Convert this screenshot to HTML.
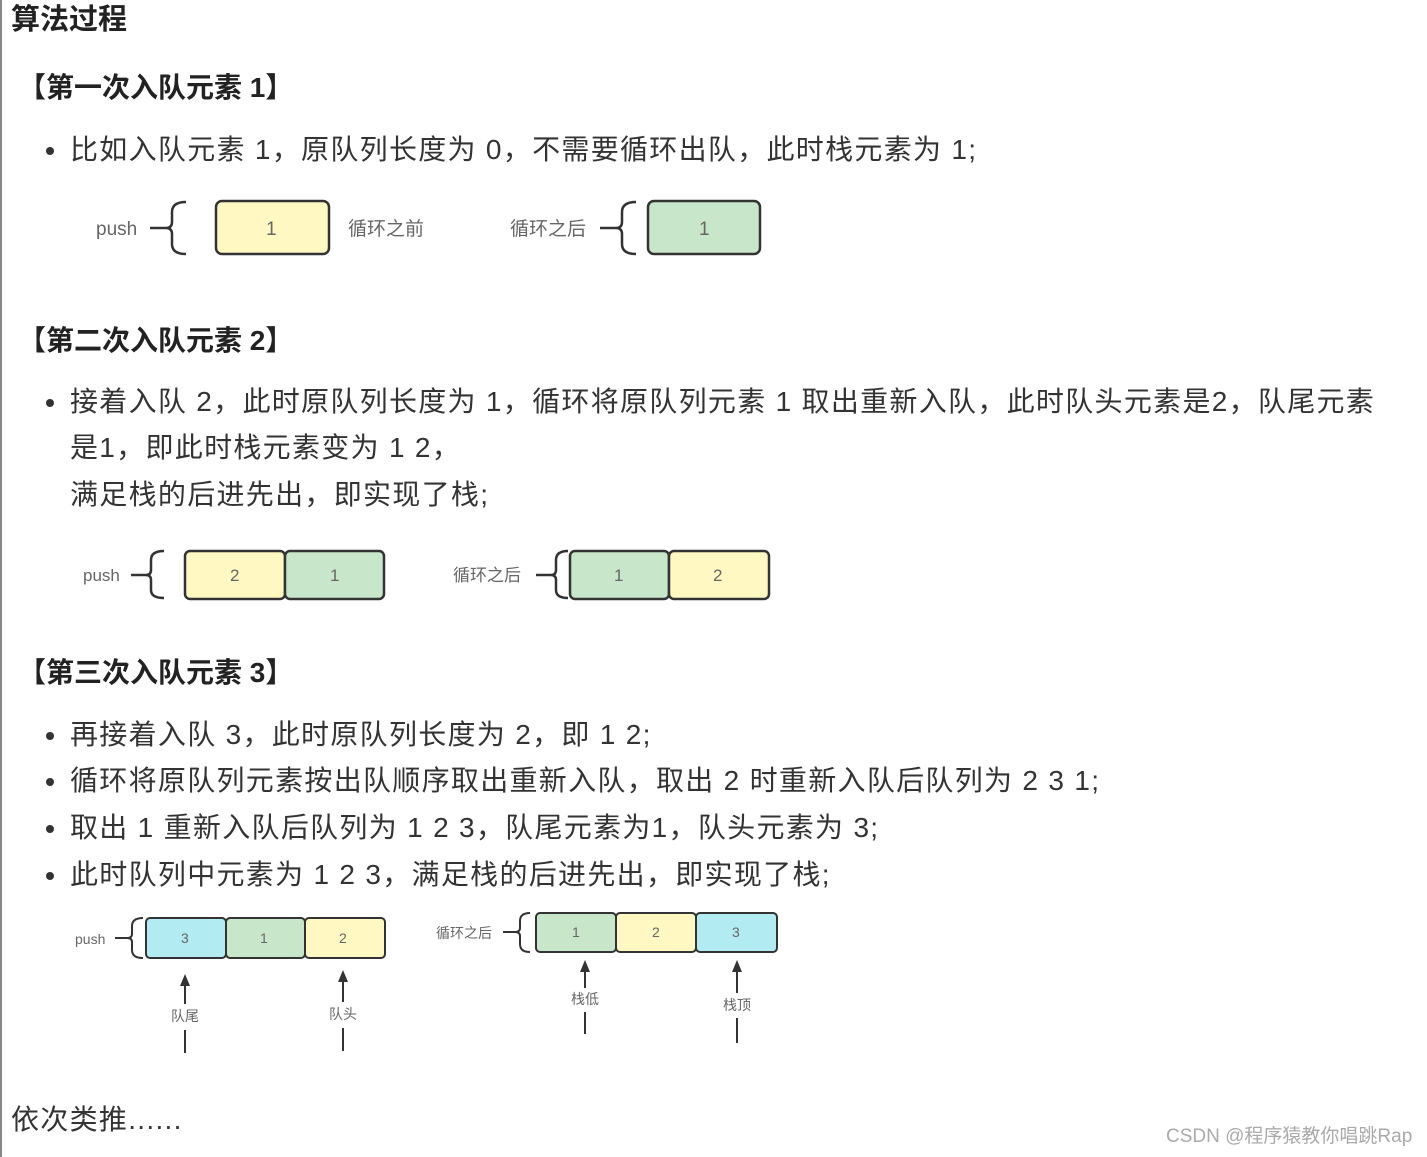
<!DOCTYPE html>
<html><head><meta charset="utf-8"><style>
html,body{margin:0;padding:0;background:#fff;}
body{width:1427px;height:1157px;position:relative;overflow:hidden;font-family:"Liberation Sans","Noto Sans CJK SC",sans-serif;color:#333;}
.t{position:absolute;white-space:nowrap;line-height:1;}
.h{font-size:28px;font-weight:bold;color:#222;}
.p{font-size:28px;color:#333;letter-spacing:1.3px;}
.dot{position:absolute;width:8px;height:8px;border-radius:50%;background:#333;}
svg{position:absolute;left:0;top:0;}
</style></head><body>
<div style="position:absolute;left:0;top:0;width:2px;height:1157px;background:#888"></div>
<div class="t h" style="left:11px;top:6px;font-size:29px">算法过程</div>
<div class="t h" style="left:18px;top:74px">【第一次入队元素 1】</div>
<div class="dot" style="left:46px;top:147px"></div>
<div class="t p" style="left:70px;top:136px">比如入队元素 1，原队列长度为 0，不需要循环出队，此时栈元素为 1;</div>

<div class="t h" style="left:18px;top:327px">【第二次入队元素 2】</div>
<div class="dot" style="left:46px;top:399px"></div>
<div class="t p" style="left:70px;top:388px">接着入队 2，此时原队列长度为 1，循环将原队列元素 1 取出重新入队，此时队头元素是2，队尾元素</div>
<div class="t p" style="left:70px;top:434px">是1，即此时栈元素变为 1 2，</div>
<div class="t p" style="left:70px;top:481px">满足栈的后进先出，即实现了栈;</div>

<div class="t h" style="left:18px;top:659px">【第三次入队元素 3】</div>
<div class="dot" style="left:46px;top:732px"></div>
<div class="t p" style="left:70px;top:721px">再接着入队 3，此时原队列长度为 2，即 1 2;</div>
<div class="dot" style="left:46px;top:778px"></div>
<div class="t p" style="left:70px;top:767px">循环将原队列元素按出队顺序取出重新入队，取出 2 时重新入队后队列为 2 3 1;</div>
<div class="dot" style="left:46px;top:825px"></div>
<div class="t p" style="left:70px;top:814px">取出 1 重新入队后队列为 1 2 3，队尾元素为1，队头元素为 3;</div>
<div class="dot" style="left:46px;top:872px"></div>
<div class="t p" style="left:70px;top:861px">此时队列中元素为 1 2 3，满足栈的后进先出，即实现了栈;</div>

<div class="t p" style="left:11px;top:1106px">依次类推......</div>
<div class="t" style="left:1166px;top:1127px;font-size:19px;color:#aaa">CSDN @程序猿教你唱跳Rap</div>

<svg width="1427" height="1157" font-family="Liberation Sans, Noto Sans CJK SC, sans-serif" fill="#666">
<g stroke="#333" stroke-width="2.5" fill="none">
 <path d="M150 228 H166 M186 202 Q172 202 172 212 V222 Q172 228 166 228 Q172 228 172 234 V244 Q172 254 186 254"/>
 <path d="M600 228 H616 M636 202 Q622 202 622 212 V222 Q622 228 616 228 Q622 228 622 234 V244 Q622 254 636 254"/>
 <path d="M131 575 H146 M164 551 Q151 551 151 560 V570 Q151 575 146 575 Q151 575 151 580 V590 Q151 598 164 598"/>
 <path d="M536 575 H551 M568 551 Q556 551 556 560 V570 Q556 575 551 575 Q556 575 556 580 V590 Q556 598 568 598"/>
 <path d="M115 938 H127 M143 918 Q132 918 132 926 V934 Q132 938 127 938 Q132 938 132 942 V950 Q132 958 143 958" stroke-width="2"/>
 <path d="M503 932 H515 M530 913 Q520 913 520 921 V928 Q520 932 515 932 Q520 932 520 936 V944 Q520 952 530 952" stroke-width="2"/>
</g>
<g stroke="#333" stroke-width="2.5">
 <rect x="216" y="201" width="113" height="53" rx="6" fill="#fff8c2"/>
 <rect x="648" y="201" width="112" height="53" rx="6" fill="#c8e6c9"/>
 <rect x="185" y="551" width="100" height="48" rx="5" fill="#fff8c2"/>
 <rect x="285" y="551" width="99" height="48" rx="5" fill="#c8e6c9"/>
 <rect x="570" y="551" width="99" height="48" rx="5" fill="#c8e6c9"/>
 <rect x="669" y="551" width="100" height="48" rx="5" fill="#fff8c2"/>
</g>
<g stroke="#333" stroke-width="2">
 <rect x="146" y="918" width="80" height="40" rx="4" fill="#b2ebf2"/>
 <rect x="226" y="918" width="79" height="40" rx="4" fill="#c8e6c9"/>
 <rect x="305" y="918" width="80" height="40" rx="4" fill="#fff8c2"/>
 <rect x="536" y="913" width="80" height="39" rx="4" fill="#c8e6c9"/>
 <rect x="616" y="913" width="80" height="39" rx="4" fill="#fff8c2"/>
 <rect x="696" y="913" width="81" height="39" rx="4" fill="#b2ebf2"/>
</g>
<g font-size="19" fill="#666">
 <text x="96" y="235">push</text>
 <text x="348" y="235">循环之前</text>
 <text x="510" y="235">循环之后</text>
 <text x="266" y="235">1</text>
 <text x="699" y="235">1</text>
</g>
<g font-size="17" fill="#666">
 <text x="83" y="581">push</text>
 <text x="453" y="581">循环之后</text>
 <text x="230" y="581">2</text>
 <text x="330" y="581">1</text>
 <text x="614" y="581">1</text>
 <text x="713" y="581">2</text>
</g>
<g font-size="14" fill="#666">
 <text x="75" y="944">push</text>
 <text x="436" y="938">循环之后</text>
 <text x="181" y="943">3</text>
 <text x="260" y="943">1</text>
 <text x="339" y="943">2</text>
 <text x="572" y="937">1</text>
 <text x="652" y="937">2</text>
 <text x="732" y="937">3</text>
 <text x="171" y="1021">队尾</text>
 <text x="329" y="1019">队头</text>
 <text x="571" y="1004">栈低</text>
 <text x="723" y="1010">栈顶</text>
</g>
<g stroke="#333" stroke-width="2">
 <line x1="185" y1="982" x2="185" y2="1004"/><line x1="185" y1="1030" x2="185" y2="1053"/>
 <line x1="343" y1="978" x2="343" y2="1002"/><line x1="343" y1="1028" x2="343" y2="1051"/>
 <line x1="585" y1="968" x2="585" y2="988"/><line x1="585" y1="1012" x2="585" y2="1034"/>
 <line x1="737" y1="968" x2="737" y2="993"/><line x1="737" y1="1018" x2="737" y2="1043"/>
</g>
<g fill="#333">
 <polygon points="185,974 180,986 190,986"/>
 <polygon points="343,970 338,982 348,982"/>
 <polygon points="585,960 580,972 590,972"/>
 <polygon points="737,960 732,972 742,972"/>
</g>
</svg>
</body></html>
